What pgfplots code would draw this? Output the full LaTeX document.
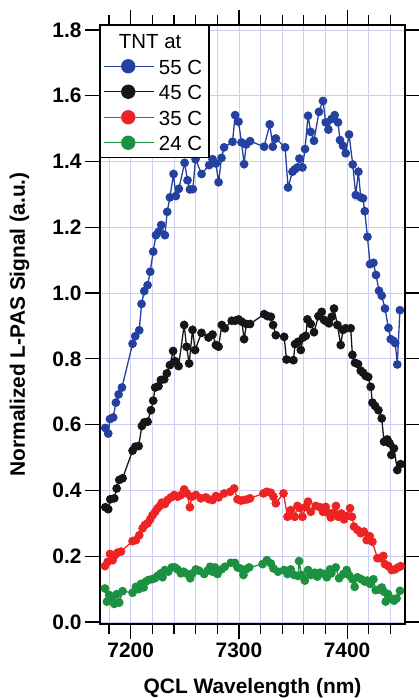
\documentclass[border=0pt]{standalone}
\usepackage{fontspec}
\setmainfont{Liberation Sans}
\usepackage{pgfplots}
\pgfplotsset{compat=1.18}

\definecolor{c55}{RGB}{36,64,160}
\definecolor{c45}{RGB}{22,22,22}
\definecolor{c35}{RGB}{238,36,36}
\definecolor{c24}{RGB}{28,145,66}
\definecolor{gridc}{RGB}{205,205,240}

\begin{document}
\begin{tikzpicture}
\useasboundingbox (-100bp,-74bp) rectangle (319bp,624bp);
\begin{axis}[
  scale only axis, width=305bp, height=599bp,
  at={(0,0)}, anchor=south west,
  xmin=7171.6, xmax=7453.5, ymin=-0.006, ymax=1.815,
  xtick={7200,7300,7400},
  minor xtick={7180,7220,7240,7260,7280,7320,7340,7360,7380,7420,7440},
  ytick={0,0.2,0.4,0.6,0.8,1.0,1.2,1.4,1.6,1.8},
  tick align=outside,
  major tick length=15bp, minor tick length=10bp,
  every tick/.style={black, line width=1.2bp},
  axis line style={line width=1.5bp},
  grid=both,
  major grid style={gridc, line width=0.8bp},
  minor grid style={gridc, line width=0.8bp},
  ticklabel style={font=\bfseries\fontsize{21}{21}\selectfont},
  /pgf/number format/assume math mode=true,
  xticklabel style={/pgf/number format/1000 sep={}},
  yticklabel style={/pgf/number format/.cd, fixed, fixed zerofill, precision=1},
  xlabel={QCL Wavelength (nm)},
  ylabel={Normalized L-PAS Signal (a.u.)},
  label style={font=\bfseries\fontsize{21}{21}\selectfont},
  xlabel style={at={(axis description cs:0.5,-0.1152)}, anchor=base},
  ylabel style={at={(axis description cs:-0.2459,0.5)}, anchor=base},
  legend style={at={(rel axis cs:0,1)}, anchor=north west, draw=black,
    line width=1.2bp, fill=white, inner sep=2.4bp, row sep=0pt, column sep=0pt,
    font=\fontsize{20.5}{20.5}\selectfont,
    nodes={inner xsep=4.6bp, inner ysep=0pt, text height=21bp, text depth=4.5bp}},
  legend cell align=left,
  legend image code/.code={
    \path (0bp,0bp) -- (50bp,0bp);
    \draw[#1] (4.6bp,0bp) -- (44.6bp,0bp);
    \draw[#1, mark size=6.5bp] plot coordinates {(24.6bp,0bp)};
  },
  every axis plot/.append style={line width=1.3bp, mark=*, mark size=3.7bp},
]
\addlegendimage{empty legend}
\addlegendentry{\hspace*{-40bp}TNT at}

% 55 C
\addplot[color=c55, mark options={solid, fill=c55, draw=c55}] table {
7176.5 0.590
7179.2 0.573
7180.8 0.617
7183.8 0.622
7186.3 0.667
7188.8 0.692
7191.9 0.713
7201.7 0.846
7204.2 0.869
7207.9 0.887
7210.0 0.967
7212.5 1.006
7215.6 1.024
7218.0 1.065
7220.8 1.126
7223.3 1.176
7225.7 1.186
7228.2 1.207
7231.6 1.176
7233.7 1.247
7236.2 1.291
7239.6 1.362
7241.7 1.295
7244.5 1.317
7249.8 1.396
7252.5 1.343
7254.7 1.315
7257.4 1.316
7259.9 1.407
7265.5 1.362
7272.5 1.389
7275.6 1.407
7278.7 1.394
7281.2 1.337
7283.9 1.411
7286.3 1.443
7294.1 1.460
7296.5 1.541
7299.6 1.521
7302.4 1.458
7304.8 1.392
7306.7 1.452
7310.3 1.462
7323.3 1.445
7328.5 1.513
7331.3 1.445
7334.1 1.470
7342.7 1.443
7345.4 1.321
7349.5 1.369
7351.6 1.376
7354.1 1.382
7355.9 1.409
7358.7 1.382
7361.1 1.438
7363.9 1.539
7366.4 1.490
7369.4 1.463
7374.0 1.551
7377.7 1.584
7380.2 1.519
7382.7 1.497
7385.5 1.529
7388.5 1.541
7391.6 1.519
7393.4 1.465
7396.2 1.448
7398.7 1.425
7401.8 1.482
7405.2 1.391
7408.0 1.298
7410.4 1.369
7412.6 1.291
7414.7 1.288
7416.3 1.249
7418.8 1.171
7421.2 1.088
7424.3 1.092
7426.7 1.055
7429.5 1.007
7432.0 0.992
7435.0 0.953
7438.2 0.894
7440.3 0.860
7442.7 0.855
7444.5 0.848
7446.4 0.783
7448.8 0.948
};
\addlegendentry{55 C}

% 45 C
\addplot[color=c45, mark options={solid, fill=c45, draw=c45}] table {
7176.5 0.349
7179.2 0.343
7181.1 0.373
7184.8 0.376
7187.0 0.406
7189.4 0.432
7192.5 0.437
7201.7 0.521
7204.2 0.533
7207.3 0.535
7210.3 0.596
7212.5 0.607
7215.6 0.609
7218.7 0.644
7220.8 0.673
7222.6 0.713
7225.7 0.717
7227.9 0.736
7231.0 0.738
7233.4 0.756
7236.2 0.781
7239.2 0.824
7241.1 0.793
7244.2 0.778
7249.4 0.903
7251.6 0.837
7254.0 0.786
7257.1 0.888
7259.5 0.827
7265.4 0.879
7271.9 0.865
7275.6 0.874
7278.7 0.842
7281.2 0.837
7284.2 0.903
7287.0 0.893
7293.4 0.916
7296.5 0.916
7299.6 0.920
7302.7 0.913
7304.8 0.860
7307.0 0.906
7310.3 0.906
7323.3 0.936
7326.4 0.930
7329.5 0.928
7331.6 0.903
7334.1 0.872
7341.8 0.867
7344.0 0.798
7350.4 0.796
7351.9 0.845
7354.7 0.852
7357.2 0.827
7359.3 0.865
7361.8 0.870
7363.3 0.920
7366.4 0.906
7369.4 0.881
7373.5 0.930
7376.5 0.943
7378.7 0.918
7381.2 0.913
7383.3 0.908
7385.8 0.928
7387.9 0.953
7391.0 0.903
7394.1 0.842
7396.2 0.888
7398.7 0.893
7403.3 0.893
7404.9 0.812
7407.3 0.788
7410.1 0.784
7412.6 0.764
7414.7 0.758
7417.2 0.748
7419.5 0.745
7421.8 0.715
7423.4 0.667
7425.8 0.657
7428.9 0.644
7432.0 0.619
7434.1 0.548
7437.2 0.555
7439.3 0.543
7440.9 0.508
7443.3 0.528
7446.4 0.462
7449.5 0.480
};
\addlegendentry{45 C}

% 35 C
\addplot[color=c35, mark options={solid, fill=c35, draw=c35}] table {
7176.2 0.170
7178.7 0.183
7180.8 0.207
7183.3 0.188
7185.7 0.204
7187.9 0.211
7191.0 0.214
7201.7 0.246
7204.8 0.249
7207.9 0.264
7211.0 0.285
7213.1 0.295
7215.6 0.300
7218.0 0.312
7220.2 0.325
7222.6 0.335
7224.8 0.346
7227.0 0.353
7228.8 0.363
7231.6 0.359
7234.1 0.371
7237.1 0.379
7240.2 0.386
7243.3 0.381
7246.4 0.386
7249.4 0.403
7251.9 0.391
7254.7 0.349
7256.5 0.381
7260.2 0.386
7264.8 0.376
7269.4 0.379
7272.5 0.373
7275.6 0.371
7278.7 0.383
7281.2 0.379
7286.3 0.391
7291.9 0.396
7295.6 0.406
7298.7 0.373
7301.8 0.369
7304.8 0.371
7307.9 0.373
7310.3 0.376
7322.7 0.391
7325.8 0.396
7329.5 0.393
7331.9 0.381
7334.1 0.361
7341.2 0.391
7344.9 0.320
7347.9 0.340
7351.6 0.320
7354.1 0.353
7356.5 0.346
7358.7 0.320
7361.8 0.350
7363.9 0.366
7366.4 0.335
7371.0 0.353
7375.0 0.349
7377.7 0.335
7380.2 0.350
7382.4 0.332
7384.9 0.318
7387.3 0.332
7389.7 0.353
7391.9 0.320
7394.7 0.330
7397.1 0.312
7399.6 0.322
7402.7 0.346
7404.5 0.320
7406.4 0.290
7409.5 0.280
7412.6 0.270
7415.5 0.275
7418.1 0.249
7420.9 0.261
7423.4 0.244
7428.0 0.194
7431.0 0.194
7433.5 0.201
7435.0 0.176
7438.1 0.170
7441.2 0.158
7444.2 0.160
7447.0 0.166
7449.5 0.170
};
\addlegendentry{35 C}

% 24 C
\addplot[color=c24, mark options={solid, fill=c24, draw=c24}] table {
7176.2 0.102
7178.0 0.062
7180.2 0.082
7182.6 0.072
7184.8 0.055
7187.3 0.085
7189.4 0.059
7192.5 0.094
7201.7 0.089
7204.8 0.107
7207.3 0.100
7209.4 0.116
7211.9 0.105
7214.0 0.123
7216.5 0.128
7219.6 0.130
7222.3 0.133
7224.8 0.140
7227.9 0.148
7229.4 0.136
7231.6 0.158
7234.7 0.153
7238.0 0.166
7240.8 0.166
7243.3 0.160
7246.4 0.148
7248.8 0.153
7252.5 0.146
7255.0 0.133
7257.1 0.148
7260.2 0.160
7263.3 0.156
7267.9 0.146
7271.0 0.156
7273.4 0.168
7275.6 0.153
7277.8 0.166
7280.2 0.146
7283.9 0.160
7287.0 0.168
7292.5 0.180
7296.2 0.180
7298.7 0.166
7301.1 0.163
7304.2 0.143
7306.4 0.160
7309.5 0.166
7321.8 0.176
7325.8 0.188
7329.5 0.178
7331.9 0.163
7336.2 0.153
7341.8 0.158
7344.9 0.146
7347.9 0.160
7351.0 0.143
7354.7 0.140
7355.6 0.185
7357.8 0.143
7360.9 0.126
7363.9 0.158
7366.4 0.143
7370.1 0.150
7372.5 0.138
7375.0 0.150
7378.7 0.146
7381.2 0.136
7384.2 0.160
7385.5 0.148
7389.5 0.166
7392.6 0.133
7396.6 0.146
7399.6 0.158
7401.8 0.143
7404.9 0.130
7407.0 0.107
7409.5 0.136
7413.2 0.130
7416.3 0.123
7418.7 0.126
7421.2 0.116
7424.3 0.130
7426.4 0.097
7429.5 0.099
7432.0 0.105
7434.1 0.092
7435.7 0.062
7437.8 0.085
7440.3 0.072
7443.4 0.065
7445.8 0.072
7448.9 0.095
};
\addlegendentry{24 C}
\end{axis}
\end{tikzpicture}
\end{document}
